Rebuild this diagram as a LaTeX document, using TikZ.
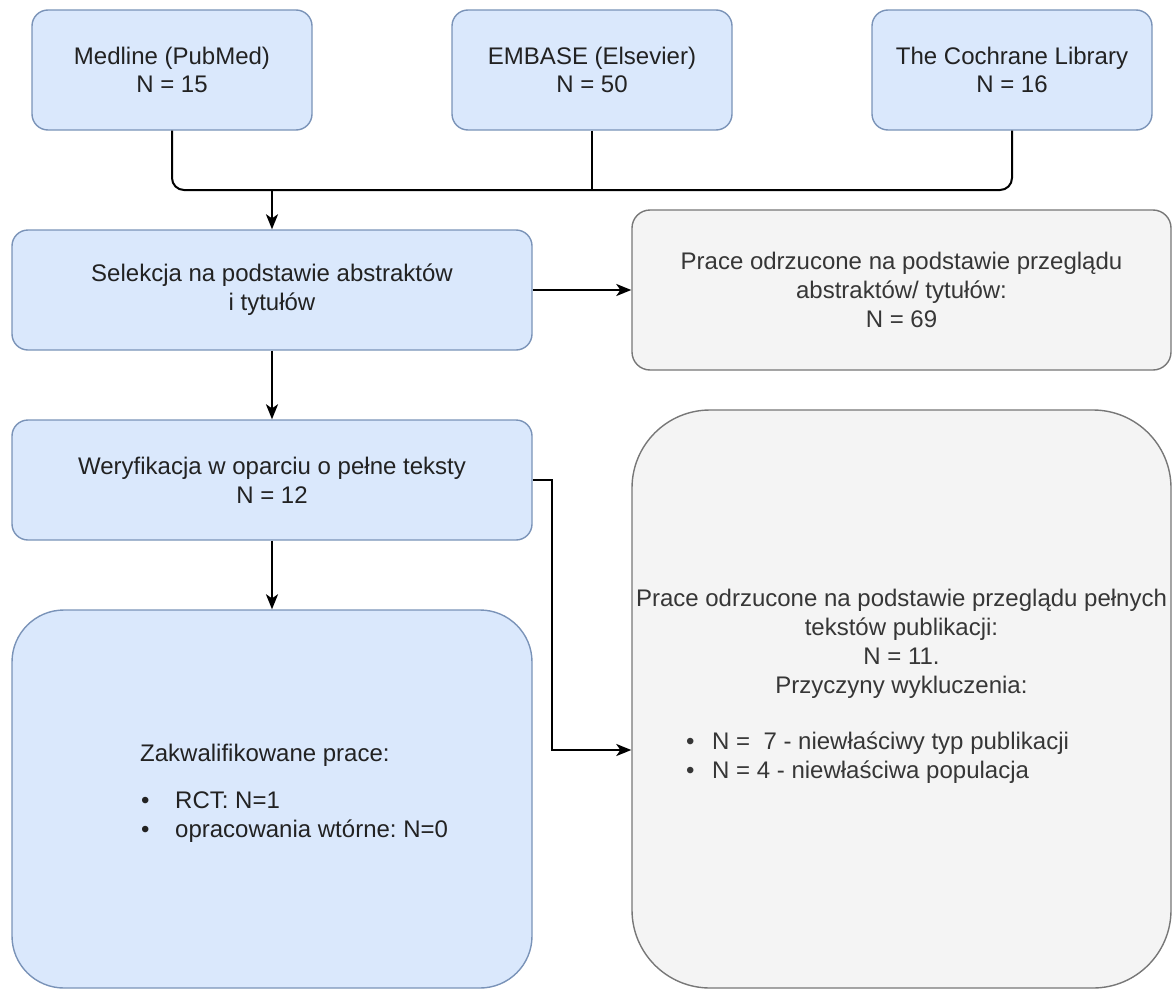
\documentclass[tikz,border=0pt]{standalone}
\usepackage{fontspec}
\setmainfont{Liberation Sans}
\usetikzlibrary{arrows.meta}
\definecolor{bfill}{HTML}{DAE8FC}
\definecolor{bline}{HTML}{7A93B8}
\definecolor{gfill}{HTML}{F4F4F4}
\definecolor{gline}{HTML}{777777}
\definecolor{btext}{HTML}{222222}
\definecolor{gtext}{HTML}{363636}
\frenchspacing
\begin{document}
\begin{tikzpicture}[x=1pt,y=-1pt,
  font=\fontsize{24}{28.8}\selectfont\frenchspacing,
  bbox/.style={draw=bline, fill=bfill, line width=1.4pt, rounded corners=16pt, inner sep=0pt, text=btext, align=center},
  gbox/.style={draw=gline, fill=gfill, line width=1.4pt, rounded corners=18pt, inner sep=0pt, text=gtext, align=center},
  conn/.style={draw=black, line width=2pt},
  arr/.style={conn, -{Stealth[length=15pt,width=12pt,inset=4pt]}},
]
\useasboundingbox (0,0) rectangle (1174,990);

\node[bbox, minimum width=280pt, minimum height=120pt] (med) at (172,70) {Medline (PubMed)\\N = 15};
\node[bbox, minimum width=280pt, minimum height=120pt] (emb) at (592,70) {EMBASE (Elsevier)\\N = 50};
\node[bbox, minimum width=280pt, minimum height=120pt] (coch) at (1012,70) {The Cochrane Library\\N = 16};
\node[bbox, minimum width=520pt, minimum height=120pt] (sel) at (272,290) {Selekcja na podstawie abstraktów\\i tytułów};
\node[gbox, minimum width=539pt, minimum height=160pt] (ex1) at (901.5,290) {Prace odrzucone na podstawie przeglądu\\abstraktów/ tytułów:\\N = 69};
\node[bbox, minimum width=520pt, minimum height=120pt] (wer) at (272,480) {Weryfikacja w oparciu o pełne teksty\\N = 12};
\node[bbox, rounded corners=52pt, minimum width=520pt, minimum height=378pt] (zak) at (272,799) {};
\node[gbox, rounded corners=78pt, minimum width=539pt, minimum height=578pt] (ex2) at (901.5,699) {};

\node[text=btext, align=left, inner sep=0pt, anchor=base west] (zakt) at (140,837) {Zakwalifikowane prace:\\[18pt]\hspace*{1pt}\makebox[34pt][l]{\textbullet}RCT: N=1\\\hspace*{1pt}\makebox[34pt][l]{\textbullet}opracowania wtórne: N=0};
\node[text=gtext, align=center, inner sep=0pt, anchor=base] (ex2h) at (901.5,693) {Prace odrzucone na podstawie przeglądu pełnych\\tekstów publikacji:\\N = 11.\\Przyczyny wykluczenia:};
\node[text=gtext, align=left, inner sep=0pt, anchor=base west] (ex2l) at (686,778) {\makebox[26pt][l]{\textbullet}N =\ \ 7 - niewłaściwy typ publikacji\\\makebox[26pt][l]{\textbullet}N = 4 - niewłaściwa populacja};

\coordinate (jc) at (1012,190);
\coordinate (bend) at (552,750);
\draw[conn, rounded corners=12pt] (med.south) |- (jc) -- (coch.south);
\draw[conn] (emb.south) -- (emb.south |- jc);
\draw[arr] (sel.north |- jc) -- (sel.north);
\draw[arr] (sel.east) -- (ex1.west);
\draw[arr] (sel.south) -- (wer.north);
\draw[arr] (wer.south) -- (zak.north);
\draw[arr] (wer.east) -| (bend) -- (ex2.west |- bend);
\end{tikzpicture}
\end{document}
